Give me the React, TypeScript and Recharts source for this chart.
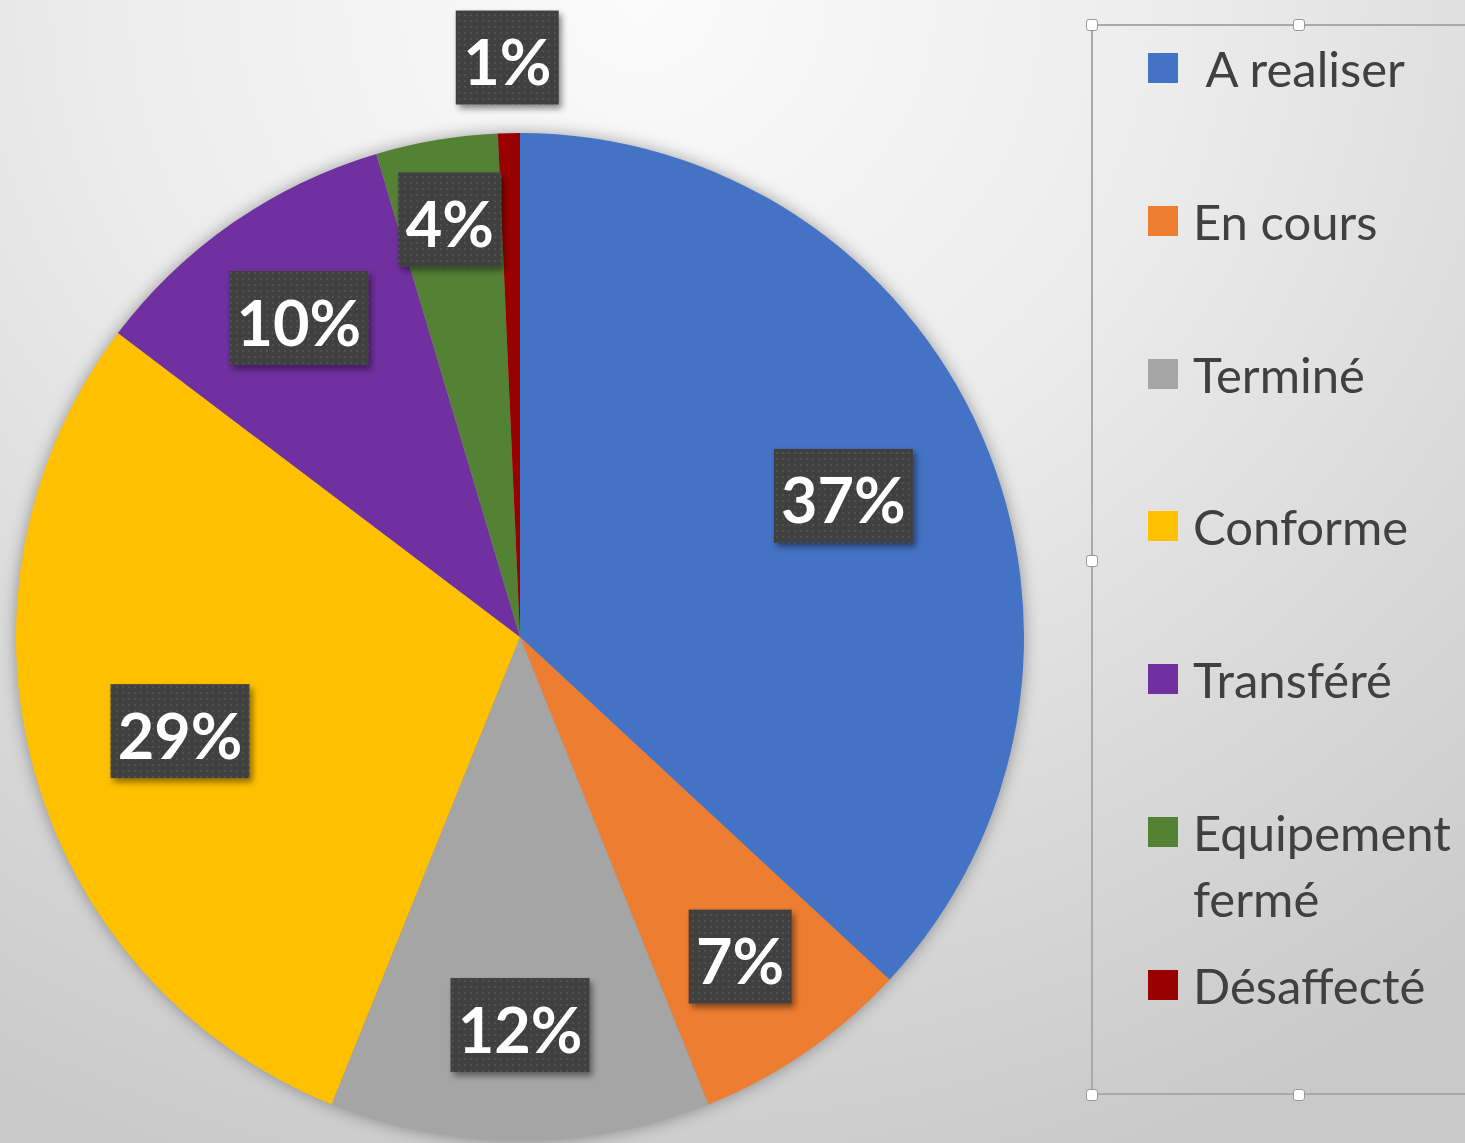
import React from 'react';
import { PieChart, Pie, Cell, Legend } from 'recharts';

const statuses = [' A realiser', 'En cours', 'Terminé', 'Conforme', 'Transféré', 'Equipement fermé', 'Désaffecté'];
const shares = [36.9, 7.0, 12.2, 29.2, 10.1, 3.9, 0.7];
const colors = ['#4472c4', '#ed7d31', '#a5a5a5', '#ffc000', '#7030a0', '#548235', '#990000'];

const data = statuses.map((name, i) => ({ name, value: shares[i] }));

const RAD = Math.PI / 180;
const FONT = 'Lato, "Open Sans", sans-serif';

function renderLabel(props: any) {
  const { cx, cy, midAngle, outerRadius, percent } = props;
  // tiny slices go outside, smaller ones sit nearer the rim
  const k = percent < 0.02 ? 1.15 : percent < 0.05 ? 0.84 : percent < 0.2 ? 0.77 : 0.7;
  const r = outerRadius * k;
  const x = cx + r * Math.cos(-midAngle * RAD);
  const y = cy + r * Math.sin(-midAngle * RAD);
  const text = `${Math.round(percent * 100)}%`;
  const w = text.length === 2 ? 103 : 139;
  const h = 94;
  return (
    <g>
      <rect x={x - w / 2} y={y - h / 2} width={w} height={h} fill="url(#dots)" filter="url(#boxShadow)" />
      <text
        x={x}
        y={y + 3}
        textAnchor="middle"
        dominantBaseline="central"
        fill="#ffffff"
        fontSize={63}
        fontWeight={700}
        fontFamily={FONT}
      >
        {text}
      </text>
    </g>
  );
}

const handle = (left: number, top: number) => (
  <div
    key={`${left}-${top}`}
    style={{
      position: 'absolute',
      left: left - 6,
      top: top - 6,
      width: 10,
      height: 10,
      background: '#ffffff',
      border: '1px solid #9a9a9a',
      borderRadius: 3,
    }}
  />
);

function renderLegend() {
  const step = 152.8;
  return (
    <div style={{ position: 'relative', width: 400, height: 1071, borderLeft: '2px solid #a9a9a9', borderTop: '2px solid #a9a9a9', borderBottom: '2px solid #a9a9a9', boxSizing: 'border-box' }}>
      {statuses.map((name, i) => (
        <div
          key={name}
          style={{
            position: 'absolute',
            left: 55,
            top: 44 + i * step - 33 - 2,
            display: 'flex',
            alignItems: 'flex-start',
          }}
        >
          <div style={{ width: 30, height: 30, marginTop: 18, marginRight: 15, background: colors[i], flexShrink: 0 }} />
          <span
            style={{
              width: 266,
              fontFamily: FONT,
              fontSize: 49,
              lineHeight: '66px',
              color: '#404040',
              whiteSpace: 'pre-wrap',
            }}
          >
            {name}
          </span>
        </div>
      ))}
      {handle(-1, -1)}
      {handle(206, -1)}
      {handle(-1, 535)}
      {handle(-1, 1069)}
      {handle(206, 1069)}
    </div>
  );
}

export default function App() {
  return (
    <div
      style={{
        position: 'absolute',
        left: 0,
        top: 0,
        width: 1465,
        height: 1143,
        overflow: 'hidden',
        background: 'radial-gradient(ellipse 1350px 1250px at 640px 0px, #fbfbfb 0%, #ececec 40%, #dadada 70%, #c9c9c9 100%)',
      }}
    >
      <style>{`.recharts-pie { filter: drop-shadow(0 0 8px rgba(0,0,0,0.35)); }`}</style>
      <svg width={0} height={0} style={{ position: 'absolute' }}>
        <defs>
          <pattern id="dots" width={6} height={6} patternUnits="userSpaceOnUse">
            <rect width={6} height={6} fill="#3f3f3f" />
            <circle cx={3} cy={3} r={0.9} fill="#585858" />
          </pattern>
          <filter id="boxShadow" x="-20%" y="-20%" width="150%" height="150%">
            <feDropShadow dx={3} dy={4} stdDeviation={3} floodColor="#000" floodOpacity={0.45} />
          </filter>
        </defs>
      </svg>
      <PieChart width={1465} height={1143} margin={{ top: 0, right: 0, bottom: 0, left: 0 }}>
        <Pie
          data={data}
          dataKey="value"
          nameKey="name"
          cx={520}
          cy={637}
          outerRadius={504}
          startAngle={90}
          endAngle={-270}
          stroke="none"
          label={renderLabel}
          labelLine={false}
          isAnimationActive={false}
        >
          {data.map((d, i) => (
            <Cell key={d.name} fill={colors[i]} />
          ))}
        </Pie>
        <Legend
          layout="vertical"
          align="right"
          verticalAlign="top"
          wrapperStyle={{ position: 'absolute', left: 1091, top: 24, width: 400, height: 1071 }}
          content={renderLegend}
        />
      </PieChart>
    </div>
  );
}
